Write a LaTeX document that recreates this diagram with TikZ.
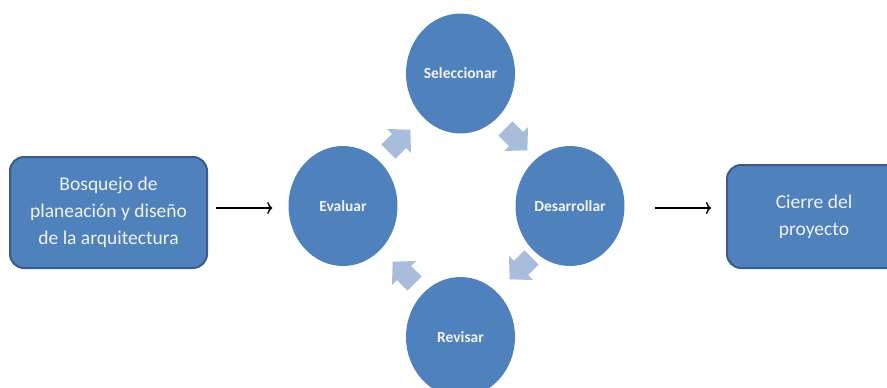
\documentclass[tikz,border=0pt]{standalone}
\usepackage{fontspec}
\setmainfont{Carlito}
\usepackage{tikz}
\usetikzlibrary{calc}
\usetikzlibrary{arrows.meta}
\usepgflibrary{shapes.geometric}
\definecolor{azul}{HTML}{4F81BD}
\definecolor{borde}{HTML}{385D8A}
\definecolor{celeste}{HTML}{A9BCDB}
\definecolor{texto}{HTML}{F2F2F2}

\begin{document}
\begin{tikzpicture}[x=1pt, y=-1pt,
  caja/.style={draw=borde, line width=2pt, fill=azul, rounded corners=14pt,
    text=texto, align=center, inner sep=0pt,
    font=\fontsize{19.5}{27}\selectfont},
  etapa/.style={ellipse, fill=azul, minimum width=109pt, minimum height=120pt,
    inner sep=0pt, text=texto, font=\fontsize{15.5}{18}\selectfont\bfseries},
  flecha/.style={-{To[length=5pt, width=12pt]}, line width=1.4pt}]
  \useasboundingbox (0,0) rectangle (887,388);
  \clip (0,0) rectangle (887,388);

  % Cajas de inicio y fin
  \node[caja, minimum width=197pt, minimum height=111pt] (bosquejo) at (108.5,212.5)
    {Bosquejo de\\planeación y diseño\\de la arquitectura};
  \node[caja, minimum width=174pt, minimum height=103pt] (cierre) at (814,216.5)
    {Cierre del\\proyecto};

  % Ciclo
  \node[etapa] (seleccionar) at (460.5,73.5) {Seleccionar};
  \node[etapa] (desarrollar) at (570,206)   {Desarrollar};
  \node[etapa] (revisar)     at (460.5,337) {Revisar};
  \node[etapa] (evaluar)     at (343,206)   {Evaluar};

  % Flechas del ciclo
  \foreach \px/\py/\ang in {399/141/45, 516/139/-45, 521/268/-135, 404/273/135}
    \fill[celeste, shift={(\px,\py)}, rotate=\ang]
      (-15,-10) -- (0,-10) -- (0,-17) -- (16,0) -- (0,17) -- (0,10) -- (-15,10) -- cycle;

  % Flechas de entrada y salida
  \draw[flecha] ([xshift=8pt]bosquejo.east |- 0,208) -- ([xshift=-16pt]evaluar.west |- 0,208);
  \draw[flecha] ([xshift=30pt]desarrollar.east |- 0,208) -- ([xshift=-15pt]cierre.west |- 0,208);

\end{tikzpicture}
\end{document}
